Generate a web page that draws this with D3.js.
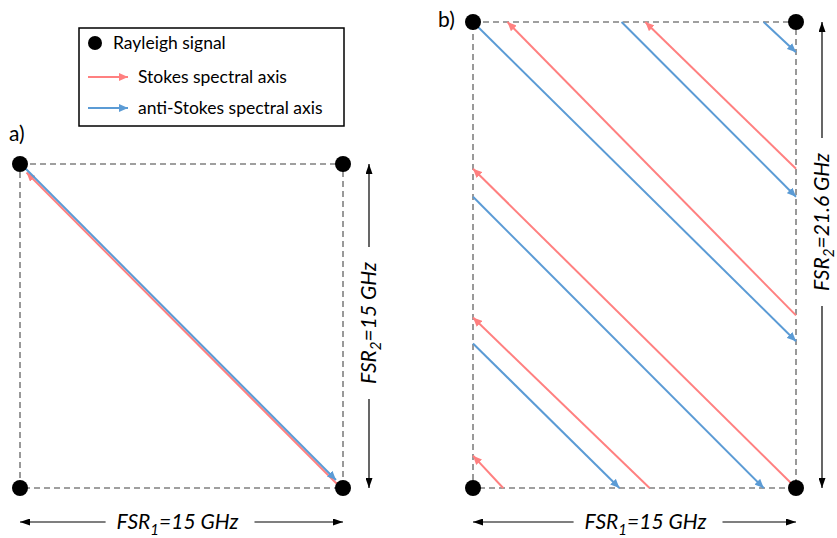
<!DOCTYPE html>
<html lang="en">
<head>
  <meta charset="UTF-8">
  <title>FSR spectral axes</title>
  <script src="https://d3js.org/d3.v7.min.js"></script>
  <style>
    body { margin: 0; background: #fff; }
    text { font-family: Lato, "Noto Sans", sans-serif; fill: #000; }
  </style>
</head>
<body>
<script>
  // FSR values (GHz) for both panels: [FSR1, FSR2]
  const fsrA = [15, 15];
  const fsrB = [15, 21.6];

  // segments, [start, end] in GHz (x = FSR1 axis, y = FSR2 axis)
  const stokesA = [[[15, 0], [0.35, 14.65]]];
  const antiStokesA = [[[0, 15], [14.65, 0.35]]];

  const stokesB = [
    [[15, 0], [0, 14.8]],
    [[15, 14.8], [8, 21.6]],
    [[8.2, 0], [0, 7.9]],
    [[15, 8], [1.6, 21.6]],
    [[1.4, 0], [0, 1.5]]
  ];
  const antiStokesB = [
    [[0, 21.6], [15, 6.8]],
    [[0, 6.7], [6.8, 0]],
    [[6.9, 21.6], [15, 13.5]],
    [[0, 13.5], [13.5, 0]],
    [[13.5, 21.6], [15, 20.2]]
  ];

  const legendLabels = ["Rayleigh signal", "Stokes spectral axis", "anti-Stokes spectral axis"];
  const panelLabels = ["a)", "b)"];

  const width = 837, height = 538;
  const pink = "#ff8080", blue = "#5b9bd5", grid = "#808080";

  const svg = d3.select("body").append("svg")
    .attr("width", width)
    .attr("height", height);

  // arrowhead markers
  const defs = svg.append("defs");
  function marker(id, color, len, half) {
    defs.append("marker")
      .attr("id", id)
      .attr("markerUnits", "userSpaceOnUse")
      .attr("viewBox", `0 ${-half} ${len} ${half * 2}`)
      .attr("refX", len).attr("refY", 0)
      .attr("markerWidth", len).attr("markerHeight", half * 2)
      .attr("orient", "auto")
      .append("path")
      .attr("d", `M0,${-half}L${len},0L0,${half}Z`)
      .attr("fill", color);
  }
  marker("arrPink", pink, 9, 4);
  marker("arrBlue", blue, 9, 4);
  marker("arrBlack", "#000", 10, 3.5);

  function panel(fsr, xRange, yRange, stokes, anti, offsets, labels) {
    const x = d3.scaleLinear().domain([0, fsr[0]]).range(xRange);
    const y = d3.scaleLinear().domain([0, fsr[1]]).range(yRange);
    const g = svg.append("g");

    // dashed frame
    g.append("rect")
      .attr("x", x(0)).attr("y", y(fsr[1]))
      .attr("width", x(fsr[0]) - x(0))
      .attr("height", y(0) - y(fsr[1]))
      .attr("fill", "none")
      .attr("stroke", grid)
      .attr("stroke-width", 1.6)
      .attr("stroke-dasharray", "6,4");

    const seg = (data, color, id, off) => g.selectAll(null)
      .data(data).enter().append("line")
      .attr("x1", d => x(d[0][0]) + off[0]).attr("y1", d => y(d[0][1]) + off[1])
      .attr("x2", d => x(d[1][0]) + off[0]).attr("y2", d => y(d[1][1]) + off[1])
      .attr("stroke", color)
      .attr("stroke-width", 2)
      .attr("marker-end", `url(#${id})`);

    seg(stokes, pink, "arrPink", offsets[0]);
    seg(anti, blue, "arrBlue", offsets[1]);

    // Rayleigh points at the corners
    const corners = [[0, 0], [fsr[0], 0], [0, fsr[1]], [fsr[0], fsr[1]]];
    g.selectAll("circle").data(corners).enter().append("circle")
      .attr("cx", d => x(d[0])).attr("cy", d => y(d[1]))
      .attr("r", 8).attr("fill", "#000");

    // horizontal FSR1 arrow
    const hy = y(0) + 34;
    const ht = g.append("text")
      .attr("x", (x(0) + x(fsr[0])) / 2 + labels.hShift)
      .attr("y", hy + 7)
      .attr("text-anchor", "middle")
      .style("font-size", "21px").style("font-style", "italic");
    ht.append("tspan").text("FSR");
    ht.append("tspan").attr("dy", 6).style("font-size", "15px").text("1");
    ht.append("tspan").attr("dy", -6).text("=" + fsr[0] + " GHz");
    const hb = ht.node().getBBox();
    g.append("line").attr("x1", hb.x - 11).attr("x2", x(0)).attr("y1", hy).attr("y2", hy)
      .attr("stroke", "#000").attr("stroke-width", 1.2).attr("marker-end", "url(#arrBlack)");
    g.append("line").attr("x1", hb.x + hb.width + 16).attr("x2", x(fsr[0])).attr("y1", hy).attr("y2", hy)
      .attr("stroke", "#000").attr("stroke-width", 1.2).attr("marker-end", "url(#arrBlack)");

    // vertical FSR2 arrow
    const vx = x(fsr[0]) + 26;
    const vc = labels.vCenter;
    const vt = g.append("text")
      .attr("transform", `translate(${vx + 7},${vc}) rotate(-90)`)
      .attr("text-anchor", "middle")
      .style("font-size", "21px").style("font-style", "italic");
    vt.append("tspan").text("FSR");
    vt.append("tspan").attr("dy", 5).style("font-size", "15px").text("2");
    vt.append("tspan").attr("dy", -5).text("=" + fsr[1] + " GHz");
    const half = vt.node().getComputedTextLength() / 2;
    g.append("line").attr("x1", vx).attr("x2", vx).attr("y1", vc - half - 15).attr("y2", y(fsr[1]))
      .attr("stroke", "#000").attr("stroke-width", 1.2).attr("marker-end", "url(#arrBlack)");
    g.append("line").attr("x1", vx).attr("x2", vx).attr("y1", vc + half + 15).attr("y2", y(0))
      .attr("stroke", "#000").attr("stroke-width", 1.2).attr("marker-end", "url(#arrBlack)");

    // panel letter
    g.append("text")
      .attr("x", labels.pos[0]).attr("y", labels.pos[1])
      .style("font-size", "21px")
      .text(labels.name);
  }

  panel(fsrA, [20, 343], [488, 164], stokesA, antiStokesA,
    [[-1, 1], [0.5, -0.5]],
    { hShift: -4, vCenter: 323, pos: [9, 141], name: panelLabels[0] });

  panel(fsrB, [473, 796], [488, 22], stokesB, antiStokesB,
    [[0, 0], [0, 0]],
    { hShift: 11, vCenter: 222, pos: [438, 27], name: panelLabels[1] });

  // legend
  const lg = svg.append("g").attr("transform", "translate(79,28)");
  lg.append("rect")
    .attr("width", 265).attr("height", 98)
    .attr("fill", "#fff").attr("stroke", "#000").attr("stroke-width", 1.5);
  lg.append("circle").attr("cx", 16).attr("cy", 15).attr("r", 7).attr("fill", "#000");
  lg.append("line").attr("x1", 9).attr("x2", 49).attr("y1", 49).attr("y2", 49)
    .attr("stroke", pink).attr("stroke-width", 2).attr("marker-end", "url(#arrPink)");
  lg.append("line").attr("x1", 9).attr("x2", 49).attr("y1", 80).attr("y2", 80)
    .attr("stroke", blue).attr("stroke-width", 2).attr("marker-end", "url(#arrBlue)");
  lg.selectAll("text.leg").data(legendLabels).enter().append("text")
    .attr("class", "leg")
    .attr("x", (d, i) => i === 0 ? 34 : 59)
    .attr("y", (d, i) => [15, 49, 80][i])
    .attr("dy", "0.35em")
    .style("font-size", "17.5px")
    .text(d => d);
</script>
</body>
</html>
